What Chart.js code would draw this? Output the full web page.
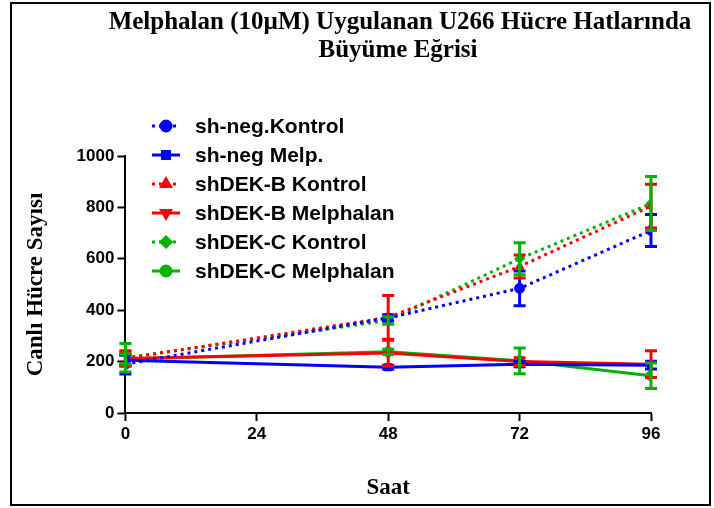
<!DOCTYPE html>
<html>
<head>
<meta charset="utf-8">
<script src="https://cdn.jsdelivr.net/npm/chart.js@4.4.1/dist/chart.umd.min.js"></script>
<style>
  html, body { margin: 0; padding: 0; background: #fff; }
  #wrap { width: 714px; height: 508px; }
</style>
</head>
<body>
<div id="wrap"><canvas id="growth-chart" width="714" height="508"></canvas></div>
<script>
var hours = [0, 48, 72, 96];
var xTicks = [0, 24, 48, 72, 96];
var yTicks = [0, 200, 400, 600, 800, 1000];

var seriesNames = ["sh-neg.Kontrol", "sh-neg Melp.", "shDEK-B Kontrol", "shDEK-B Melphalan", "shDEK-C Kontrol", "shDEK-C Melphalan"];

var shNegKontrol = [190, 370, 485, 710];
var shNegKontrolErr = [38, 12, 68, 62];
var shNegMelp = [205, 178, 190, 186];
var shNegMelpErr = [20, 8, 10, 15];
var shDekBKontrol = [212, 372, 570, 805];
var shDekBKontrolErr = [25, 85, 45, 85];
var shDekBMelp = [212, 233, 200, 190];
var shDekBMelpErr = [30, 50, 15, 52];
var shDekCKontrol = [215, 360, 600, 815];
var shDekCKontrolErr = [55, 15, 62, 105];
var shDekCMelp = [210, 238, 203, 145];
var shDekCMelpErr = [20, 10, 50, 50];

var BLUE = "#0000ff", RED = "#ff0000", GREEN = "#00b400";

function pts(vals, errs) {
  return hours.map(function (h, i) { return { x: h, y: vals[i], err: errs[i] }; });
}

function makeSet(i, vals, errs, color, dotted, style, rot) {
  return {
    label: seriesNames[i],
    data: pts(vals, errs),
    borderColor: color,
    backgroundColor: color,
    pointBackgroundColor: color,
    pointBorderColor: color,
    pointStyle: style,
    rotation: rot || 0,
    pointRadius: 5,
    pointBorderWidth: 1,
    borderWidth: 3,
    borderDash: dotted ? [3, 4] : [],
    fill: false,
    tension: 0
  };
}

var datasets = [
  makeSet(0, shNegKontrol, shNegKontrolErr, BLUE, true, "circle"),
  makeSet(1, shNegMelp, shNegMelpErr, BLUE, false, "rect"),
  makeSet(2, shDekBKontrol, shDekBKontrolErr, RED, true, "triangle"),
  makeSet(3, shDekBMelp, shDekBMelpErr, RED, false, "triangle", 180),
  makeSet(4, shDekCKontrol, shDekCKontrolErr, GREEN, true, "rectRot"),
  makeSet(5, shDekCMelp, shDekCMelpErr, GREEN, false, "circle")
];

// error bars, frame, title and the in-plot legend
var extras = {
  id: "extras",
  afterDatasetsDraw: function (chart) {
    var ctx = chart.ctx, yScale = chart.scales.y;
    ctx.save();
    chart.data.datasets.forEach(function (ds, di) {
      var meta = chart.getDatasetMeta(di);
      ctx.strokeStyle = ds.borderColor;
      ctx.lineWidth = 3;
      ctx.setLineDash([]);
      meta.data.forEach(function (p, j) {
        var e = ds.data[j].err;
        var top = yScale.getPixelForValue(ds.data[j].y + e);
        var bot = yScale.getPixelForValue(ds.data[j].y - e);
        ctx.beginPath();
        ctx.moveTo(p.x, top); ctx.lineTo(p.x, bot);
        ctx.moveTo(p.x - 6, top); ctx.lineTo(p.x + 6, top);
        ctx.moveTo(p.x - 6, bot); ctx.lineTo(p.x + 6, bot);
        ctx.stroke();
      });
    });
    ctx.restore();
  },
  afterDraw: function (chart) {
    var ctx = chart.ctx;
    ctx.save();
    // frame
    ctx.strokeStyle = "#000";
    ctx.lineWidth = 2;
    ctx.strokeRect(11, 3, 699, 502);
    // title
    ctx.fillStyle = "#000";
    ctx.font = "bold 25px 'Liberation Serif'";
    ctx.textAlign = "center";
    ctx.textBaseline = "middle";
    ctx.fillText("Melphalan (10\u00b5M) Uygulanan U266 H\u00fccre Hatlar\u0131nda", 400, 23);
    ctx.fillText("B\u00fcy\u00fcme E\u011frisi", 398, 51);
    // legend
    ctx.font = "bold 21px 'Liberation Sans'";
    ctx.textAlign = "left";
    chart.data.datasets.forEach(function (ds, i) {
      var y = 126 + i * 29;
      ctx.strokeStyle = ds.borderColor;
      ctx.lineWidth = 3;
      ctx.setLineDash(ds.borderDash);
      ctx.beginPath();
      ctx.moveTo(152, y); ctx.lineTo(180, y);
      ctx.stroke();
      ctx.setLineDash([]);
      Chart.helpers.drawPoint(ctx, {
        pointStyle: ds.pointStyle, rotation: ds.rotation, radius: 5, borderWidth: 1
      }, 166, y);
      ctx.fillStyle = ds.borderColor;
      ctx.fill();
      ctx.fillStyle = "#000";
      ctx.fillText(ds.label, 195, y + 1);
    });
    ctx.restore();
  }
};

var ctx = document.getElementById("growth-chart").getContext("2d");
var growthChart = new Chart(ctx, {
  type: "line",
  data: { datasets: datasets },
  plugins: [extras],
  options: {
    responsive: false,
    animation: false,
    layout: { padding: { left: 22, right: 63, top: 156, bottom: 6 } },
    plugins: { legend: { display: false }, title: { display: false }, tooltip: { enabled: false } },
    scales: {
      x: {
        type: "linear",
        min: 0, max: 96,
        afterBuildTicks: function (axis) { axis.ticks = xTicks.map(function (v) { return { value: v }; }); },
        grid: { drawOnChartArea: false, drawTicks: true, tickLength: 8, tickWidth: 2, color: "#000" },
        border: { color: "#000", width: 2 },
        ticks: { color: "#000", font: { family: "'Liberation Sans'", size: 17, weight: "bold" }, padding: 3, maxRotation: 0,
                 callback: function (v) { return String(v); } },
        title: { display: true, text: "Saat", color: "#000", font: { family: "'Liberation Serif'", size: 23, weight: "bold" }, padding: { top: 27, bottom: 0 } }
      },
      y: {
        min: 0, max: 1000,
        afterBuildTicks: function (axis) { axis.ticks = yTicks.map(function (v) { return { value: v }; }); },
        grid: { drawOnChartArea: false, drawTicks: true, tickLength: 8, tickWidth: 2, color: "#000" },
        border: { color: "#000", width: 2 },
        ticks: { color: "#000", font: { family: "'Liberation Sans'", size: 17, weight: "bold" }, padding: 3,
                 callback: function (v) { return String(v); } },
        title: { display: true, text: "Canl\u0131 H\u00fccre Say\u0131s\u0131", color: "#000", font: { family: "'Liberation Serif'", size: 23, weight: "bold" }, padding: { top: 0, bottom: 24 } }
      }
    }
  }
});
</script>
</body>
</html>
